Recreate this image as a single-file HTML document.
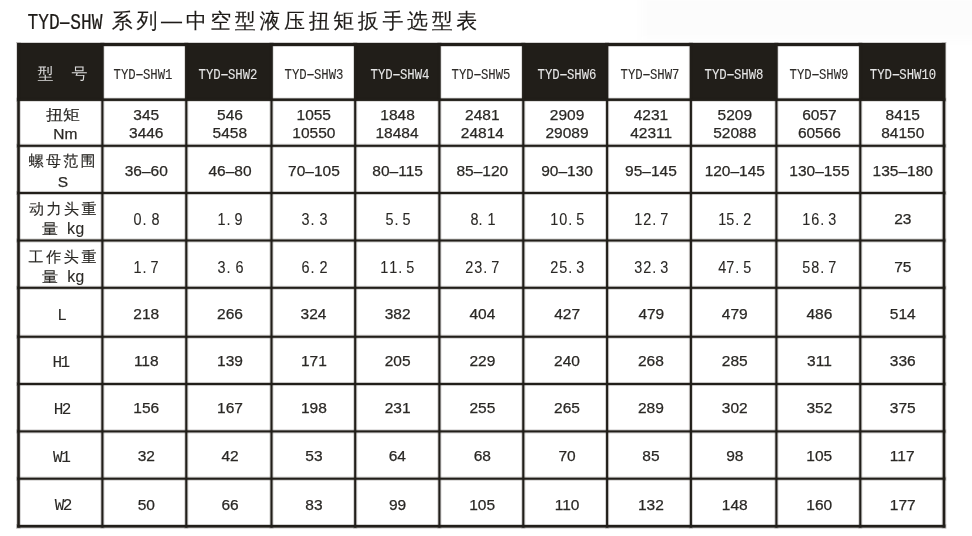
<!DOCTYPE html>
<html lang="zh-CN"><head><meta charset="utf-8">
<title>TYD-SHW 系列—中空型液压扭矩扳手选型表</title>
<style>
html,body{margin:0;padding:0;background:#fff;}
body{width:972px;height:536px;position:relative;overflow:hidden;}
.bgfade{position:absolute;left:642px;top:-4px;width:340px;height:44px;background:rgba(60,60,60,0.014);filter:blur(4px);}
svg.grid{position:absolute;left:0;top:0;}
.txt{position:absolute;left:0;top:0;width:972px;height:536px;}
.t{position:absolute;white-space:nowrap;line-height:1;color:#2a2825;transform:translate(-50%,-50%);-webkit-text-stroke:0.25px currentColor;}
.cjk{-webkit-text-stroke:0;}
.tcjk{-webkit-text-stroke:0.12px currentColor;}
.lb{-webkit-text-stroke:0.15px currentColor;}
.lab,.kg{-webkit-text-stroke:0.1px currentColor;}
.tlat{-webkit-text-stroke:0.2px currentColor;}
.hd{-webkit-text-stroke:0.1px currentColor;}
.sx12{transform:translate(-50%,-50%) scaleX(1.13);}
.sx11{transform:translate(-50%,-50%) scaleX(1.1);}
.cjk{font-family:"Liberation Sans","WenQuanYi Zen Hei",sans-serif;}
.hw{font-size:16px;letter-spacing:1px;color:#dcdcdc;}
.lb{font-size:15px;}
.ls2{letter-spacing:2.2px;}
.ls3{letter-spacing:2.5px;}
.ls3b{letter-spacing:2.6px;}
.num{font-family:"Liberation Sans",sans-serif;font-size:15.5px;}
.mono{font-family:"Liberation Mono",monospace;}
.hd{font-size:14.8px;transform:translate(-50%,-50%) scaleX(0.83);}
.wt{color:#e6e6e6;}
.bt{color:#2e2b28;}
.decw{font-family:"Liberation Sans",sans-serif;font-size:16px;-webkit-text-stroke:0.1px currentColor;}
.dc{display:inline-block;width:8.65px;text-align:center;transform:scaleX(0.9);}
.dp{text-align:left;text-indent:0px;}
.hy{display:inline-block;transform:scaleX(1.9);}
.lab{font-size:16px;letter-spacing:-1.5px;}
.kg{font-size:16px;letter-spacing:-1px;}
.tlat{font-family:"Liberation Mono",monospace;font-size:21.3px;color:#1e1b18;transform:translate(-50%,-50%) scaleX(0.84);}
.tcjk{font-family:"Liberation Sans","WenQuanYi Zen Hei",sans-serif;font-size:21px;letter-spacing:3.6px;color:#1e1b18;}
</style></head><body>
<div class="bgfade"></div>
<svg class="grid" width="972" height="536" viewBox="0 0 972 536" shape-rendering="geometricPrecision">
<g>
<rect x="17.2" y="43" width="928.10" height="57.75" fill="#211e19"/>
<rect x="103.45" y="46" width="81.80" height="52.65" fill="#fff"/>
<rect x="103.45" y="46" width="81.80" height="1" fill="#211e19" fill-opacity="0.2"/>
<rect x="272.55" y="46" width="81.60" height="52.65" fill="#fff"/>
<rect x="272.55" y="46" width="81.60" height="1" fill="#211e19" fill-opacity="0.2"/>
<rect x="440.45" y="46" width="81.80" height="52.65" fill="#fff"/>
<rect x="440.45" y="46" width="81.80" height="1" fill="#211e19" fill-opacity="0.2"/>
<rect x="608.15" y="46" width="81.70" height="52.65" fill="#fff"/>
<rect x="608.15" y="46" width="81.70" height="1" fill="#211e19" fill-opacity="0.2"/>
<rect x="777.45" y="46" width="81.80" height="52.65" fill="#fff"/>
<rect x="777.45" y="46" width="81.80" height="1" fill="#211e19" fill-opacity="0.2"/>
<rect x="16.20" y="42.2" width="4.60" height="486.40" fill="#211e19" fill-opacity="0.2"/>
<rect x="100.35" y="42.2" width="4.10" height="486.40" fill="#211e19" fill-opacity="0.2"/>
<rect x="184.25" y="42.2" width="4.10" height="486.40" fill="#211e19" fill-opacity="0.2"/>
<rect x="269.45" y="42.2" width="4.10" height="486.40" fill="#211e19" fill-opacity="0.2"/>
<rect x="353.15" y="42.2" width="4.10" height="486.40" fill="#211e19" fill-opacity="0.2"/>
<rect x="437.35" y="42.2" width="4.10" height="486.40" fill="#211e19" fill-opacity="0.2"/>
<rect x="521.25" y="42.2" width="4.10" height="486.40" fill="#211e19" fill-opacity="0.2"/>
<rect x="605.05" y="42.2" width="4.10" height="486.40" fill="#211e19" fill-opacity="0.2"/>
<rect x="688.85" y="42.2" width="4.10" height="486.40" fill="#211e19" fill-opacity="0.2"/>
<rect x="774.35" y="42.2" width="4.10" height="486.40" fill="#211e19" fill-opacity="0.2"/>
<rect x="858.25" y="42.2" width="4.10" height="486.40" fill="#211e19" fill-opacity="0.2"/>
<rect x="941.70" y="42.2" width="4.60" height="486.40" fill="#211e19" fill-opacity="0.2"/>
<rect x="16.20" y="97.65" width="930.10" height="4.10" fill="#211e19" fill-opacity="0.2"/>
<rect x="16.20" y="143.75" width="930.10" height="4.10" fill="#211e19" fill-opacity="0.2"/>
<rect x="16.20" y="190.95" width="930.10" height="4.10" fill="#211e19" fill-opacity="0.2"/>
<rect x="16.20" y="238.45" width="930.10" height="4.10" fill="#211e19" fill-opacity="0.2"/>
<rect x="16.20" y="285.75" width="930.10" height="4.10" fill="#211e19" fill-opacity="0.2"/>
<rect x="16.20" y="334.70" width="930.10" height="4.10" fill="#211e19" fill-opacity="0.2"/>
<rect x="16.20" y="381.95" width="930.10" height="4.10" fill="#211e19" fill-opacity="0.2"/>
<rect x="16.20" y="429.35" width="930.10" height="4.10" fill="#211e19" fill-opacity="0.2"/>
<rect x="16.20" y="476.65" width="930.10" height="4.10" fill="#211e19" fill-opacity="0.2"/>
<rect x="16.20" y="524.00" width="930.10" height="4.60" fill="#211e19" fill-opacity="0.2"/>
<rect x="16.20" y="42" width="930.10" height="1.2" fill="#211e19" fill-opacity="0.2"/>
<rect x="17.20" y="43.2" width="2.6" height="484.40" fill="#211e19"/>
<rect x="101.35" y="43.2" width="2.1" height="484.40" fill="#211e19"/>
<rect x="185.25" y="43.2" width="2.1" height="484.40" fill="#211e19"/>
<rect x="270.45" y="43.2" width="2.1" height="484.40" fill="#211e19"/>
<rect x="354.15" y="43.2" width="2.1" height="484.40" fill="#211e19"/>
<rect x="438.35" y="43.2" width="2.1" height="484.40" fill="#211e19"/>
<rect x="522.25" y="43.2" width="2.1" height="484.40" fill="#211e19"/>
<rect x="606.05" y="43.2" width="2.1" height="484.40" fill="#211e19"/>
<rect x="689.85" y="43.2" width="2.1" height="484.40" fill="#211e19"/>
<rect x="775.35" y="43.2" width="2.1" height="484.40" fill="#211e19"/>
<rect x="859.25" y="43.2" width="2.1" height="484.40" fill="#211e19"/>
<rect x="942.70" y="43.2" width="2.6" height="484.40" fill="#211e19"/>
<rect x="17.20" y="98.65" width="928.10" height="2.1" fill="#211e19"/>
<rect x="17.20" y="144.75" width="928.10" height="2.1" fill="#211e19"/>
<rect x="17.20" y="191.95" width="928.10" height="2.1" fill="#211e19"/>
<rect x="17.20" y="239.45" width="928.10" height="2.1" fill="#211e19"/>
<rect x="17.20" y="286.75" width="928.10" height="2.1" fill="#211e19"/>
<rect x="17.20" y="335.70" width="928.10" height="2.1" fill="#211e19"/>
<rect x="17.20" y="382.95" width="928.10" height="2.1" fill="#211e19"/>
<rect x="17.20" y="430.35" width="928.10" height="2.1" fill="#211e19"/>
<rect x="17.20" y="477.65" width="928.10" height="2.1" fill="#211e19"/>
<rect x="17.20" y="525.00" width="928.10" height="2.6" fill="#211e19"/>
</g>
</svg>
<div class="txt">
<div class="t cjk hw" style="left:63.12px;top:73.77px">型　号</div>
<div class="t mono hd bt" style="left:142.65px;top:74.92px">TYD<span class="hy">-</span>SHW1</div>
<div class="t mono hd wt" style="left:228.20px;top:74.92px">TYD<span class="hy">-</span>SHW2</div>
<div class="t mono hd bt" style="left:314.40px;top:74.92px">TYD<span class="hy">-</span>SHW3</div>
<div class="t mono hd wt" style="left:399.65px;top:74.92px">TYD<span class="hy">-</span>SHW4</div>
<div class="t mono hd bt" style="left:480.70px;top:74.92px">TYD<span class="hy">-</span>SHW5</div>
<div class="t mono hd wt" style="left:567.20px;top:74.92px">TYD<span class="hy">-</span>SHW6</div>
<div class="t mono hd bt" style="left:649.52px;top:74.92px">TYD<span class="hy">-</span>SHW7</div>
<div class="t mono hd wt" style="left:734.20px;top:74.92px">TYD<span class="hy">-</span>SHW8</div>
<div class="t mono hd bt" style="left:818.65px;top:74.92px">TYD<span class="hy">-</span>SHW9</div>
<div class="t mono hd wt" style="left:903.20px;top:74.92px">TYD<span class="hy">-</span>SHW10</div>
<div class="t cjk lb sx12" style="left:62.75px;top:114.08px">扭矩</div>
<div class="t num" style="left:65.25px;top:133.90px">Nm</div>
<div class="t cjk lb ls2" style="left:63.25px;top:160.32px">螺母范围</div>
<div class="t num" style="left:62.90px;top:181.60px">S</div>
<div class="t cjk lb ls3" style="left:64.03px;top:207.96px">动力头重</div>
<div class="t cjk lb sx11" style="left:49.80px;top:227.89px">量</div>
<div class="t mono kg" style="left:74.88px;top:229.80px">kg</div>
<div class="t cjk lb ls3b" style="left:63.79px;top:256.30px">工作头重</div>
<div class="t cjk lb sx11" style="left:49.80px;top:276.20px">量</div>
<div class="t mono kg" style="left:75.06px;top:277.50px">kg</div>
<div class="t mono lab" style="left:61.34px;top:316.14px">L</div>
<div class="t mono lab" style="left:60.50px;top:362.88px">H1</div>
<div class="t mono lab" style="left:61.81px;top:409.54px">H2</div>
<div class="t mono lab" style="left:61.14px;top:457.88px">W1</div>
<div class="t mono lab" style="left:62.83px;top:505.96px">W2</div>
<div class="t num" style="left:146.25px;top:115.30px">345</div>
<div class="t num" style="left:146.25px;top:133.40px">3446</div>
<div class="t num" style="left:146.25px;top:170.80px">36–60</div>
<div class="t decw" style="left:146.41px;top:220.04px"><span class="dc">0</span><span class="dc dp">.</span><span class="dc">8</span></div>
<div class="t decw" style="left:146.17px;top:267.70px"><span class="dc">1</span><span class="dc dp">.</span><span class="dc">7</span></div>
<div class="t num" style="left:146.25px;top:314.20px">218</div>
<div class="t num" style="left:146.25px;top:361.20px">118</div>
<div class="t num" style="left:146.25px;top:408.40px">156</div>
<div class="t num" style="left:146.25px;top:456.20px">32</div>
<div class="t num" style="left:146.25px;top:504.90px">50</div>
<div class="t num" style="left:230.05px;top:115.30px">546</div>
<div class="t num" style="left:229.82px;top:133.40px">5458</div>
<div class="t num" style="left:230.05px;top:170.80px">46–80</div>
<div class="t decw" style="left:229.95px;top:220.04px"><span class="dc">1</span><span class="dc dp">.</span><span class="dc">9</span></div>
<div class="t decw" style="left:230.45px;top:267.70px"><span class="dc">3</span><span class="dc dp">.</span><span class="dc">6</span></div>
<div class="t num" style="left:230.05px;top:314.20px">266</div>
<div class="t num" style="left:230.05px;top:361.20px">139</div>
<div class="t num" style="left:230.05px;top:408.40px">167</div>
<div class="t num" style="left:230.05px;top:456.20px">42</div>
<div class="t num" style="left:230.05px;top:504.90px">66</div>
<div class="t num" style="left:313.76px;top:115.30px">1055</div>
<div class="t num" style="left:313.90px;top:133.40px">10550</div>
<div class="t num" style="left:313.90px;top:170.80px">70–105</div>
<div class="t decw" style="left:314.30px;top:220.04px"><span class="dc">3</span><span class="dc dp">.</span><span class="dc">3</span></div>
<div class="t decw" style="left:314.23px;top:267.70px"><span class="dc">6</span><span class="dc dp">.</span><span class="dc">2</span></div>
<div class="t num" style="left:313.48px;top:314.20px">324</div>
<div class="t num" style="left:313.90px;top:361.20px">171</div>
<div class="t num" style="left:313.90px;top:408.40px">198</div>
<div class="t num" style="left:313.90px;top:456.20px">53</div>
<div class="t num" style="left:313.90px;top:504.90px">83</div>
<div class="t num" style="left:397.60px;top:115.30px">1848</div>
<div class="t num" style="left:397.04px;top:133.40px">18484</div>
<div class="t num" style="left:397.60px;top:170.80px">80–115</div>
<div class="t decw" style="left:398.00px;top:220.04px"><span class="dc">5</span><span class="dc dp">.</span><span class="dc">5</span></div>
<div class="t decw" style="left:397.30px;top:267.70px"><span class="dc">1</span><span class="dc">1</span><span class="dc dp">.</span><span class="dc">5</span></div>
<div class="t num" style="left:397.60px;top:314.20px">382</div>
<div class="t num" style="left:397.60px;top:361.20px">205</div>
<div class="t num" style="left:397.60px;top:408.40px">231</div>
<div class="t num" style="left:397.32px;top:456.20px">64</div>
<div class="t num" style="left:397.60px;top:504.90px">99</div>
<div class="t num" style="left:482.35px;top:115.30px">2481</div>
<div class="t num" style="left:482.35px;top:133.40px">24814</div>
<div class="t num" style="left:482.35px;top:170.80px">85–120</div>
<div class="t decw" style="left:482.75px;top:220.04px"><span class="dc">8</span><span class="dc dp">.</span><span class="dc">1</span></div>
<div class="t decw" style="left:482.22px;top:267.70px"><span class="dc">2</span><span class="dc">3</span><span class="dc dp">.</span><span class="dc">7</span></div>
<div class="t num" style="left:482.35px;top:314.20px">404</div>
<div class="t num" style="left:482.35px;top:361.20px">229</div>
<div class="t num" style="left:482.35px;top:408.40px">255</div>
<div class="t num" style="left:482.35px;top:456.20px">68</div>
<div class="t num" style="left:482.13px;top:504.90px">105</div>
<div class="t num" style="left:567.05px;top:115.30px">2909</div>
<div class="t num" style="left:567.05px;top:133.40px">29089</div>
<div class="t num" style="left:567.05px;top:170.80px">90–130</div>
<div class="t decw" style="left:567.45px;top:220.04px"><span class="dc">1</span><span class="dc">0</span><span class="dc dp">.</span><span class="dc">5</span></div>
<div class="t decw" style="left:567.45px;top:267.70px"><span class="dc">2</span><span class="dc">5</span><span class="dc dp">.</span><span class="dc">3</span></div>
<div class="t num" style="left:567.13px;top:314.20px">427</div>
<div class="t num" style="left:567.05px;top:361.20px">240</div>
<div class="t num" style="left:567.05px;top:408.40px">265</div>
<div class="t num" style="left:567.05px;top:456.20px">70</div>
<div class="t num" style="left:567.05px;top:504.90px">110</div>
<div class="t num" style="left:650.90px;top:115.30px">4231</div>
<div class="t num" style="left:651.18px;top:133.40px">42311</div>
<div class="t num" style="left:650.90px;top:170.80px">95–145</div>
<div class="t decw" style="left:651.30px;top:220.04px"><span class="dc">1</span><span class="dc">2</span><span class="dc dp">.</span><span class="dc">7</span></div>
<div class="t decw" style="left:651.30px;top:267.70px"><span class="dc">3</span><span class="dc">2</span><span class="dc dp">.</span><span class="dc">3</span></div>
<div class="t num" style="left:651.32px;top:314.20px">479</div>
<div class="t num" style="left:650.90px;top:361.20px">268</div>
<div class="t num" style="left:650.90px;top:408.40px">289</div>
<div class="t num" style="left:650.90px;top:456.20px">85</div>
<div class="t num" style="left:650.90px;top:504.90px">132</div>
<div class="t num" style="left:734.80px;top:115.30px">5209</div>
<div class="t num" style="left:734.80px;top:133.40px">52088</div>
<div class="t num" style="left:734.80px;top:170.80px">120–145</div>
<div class="t decw" style="left:734.57px;top:220.04px"><span class="dc">1</span><span class="dc">5</span><span class="dc dp">.</span><span class="dc">2</span></div>
<div class="t decw" style="left:734.57px;top:267.70px"><span class="dc">4</span><span class="dc">7</span><span class="dc dp">.</span><span class="dc">5</span></div>
<div class="t num" style="left:734.80px;top:314.20px">479</div>
<div class="t num" style="left:734.80px;top:361.20px">285</div>
<div class="t num" style="left:734.80px;top:408.40px">302</div>
<div class="t num" style="left:734.80px;top:456.20px">98</div>
<div class="t num" style="left:734.80px;top:504.90px">148</div>
<div class="t num" style="left:819.45px;top:115.30px">6057</div>
<div class="t num" style="left:819.45px;top:133.40px">60566</div>
<div class="t num" style="left:819.45px;top:170.80px">130–155</div>
<div class="t decw" style="left:819.39px;top:220.04px"><span class="dc">1</span><span class="dc">6</span><span class="dc dp">.</span><span class="dc">3</span></div>
<div class="t decw" style="left:819.39px;top:267.70px"><span class="dc">5</span><span class="dc">8</span><span class="dc dp">.</span><span class="dc">7</span></div>
<div class="t num" style="left:819.45px;top:314.20px">486</div>
<div class="t num" style="left:819.45px;top:361.20px">311</div>
<div class="t num" style="left:819.45px;top:408.40px">352</div>
<div class="t num" style="left:819.29px;top:456.20px">105</div>
<div class="t num" style="left:819.29px;top:504.90px">160</div>
<div class="t num" style="left:902.75px;top:115.30px">8415</div>
<div class="t num" style="left:902.75px;top:133.40px">84150</div>
<div class="t num" style="left:902.75px;top:170.80px">135–180</div>
<div class="t num" style="left:902.75px;top:219.20px">23</div>
<div class="t num" style="left:902.75px;top:267.00px">75</div>
<div class="t num" style="left:902.75px;top:314.20px">514</div>
<div class="t num" style="left:902.75px;top:361.20px">336</div>
<div class="t num" style="left:902.75px;top:408.40px">375</div>
<div class="t num" style="left:902.23px;top:456.20px">117</div>
<div class="t num" style="left:902.75px;top:504.90px">177</div>
<div class="t tlat" style="left:65.48px;top:23.84px">TYD<span class="hy">-</span>SHW</div>
<div class="t tcjk" style="left:296.33px;top:20.32px">系列—中空型液压扭矩扳手选型表</div>
</div>
</body></html>
